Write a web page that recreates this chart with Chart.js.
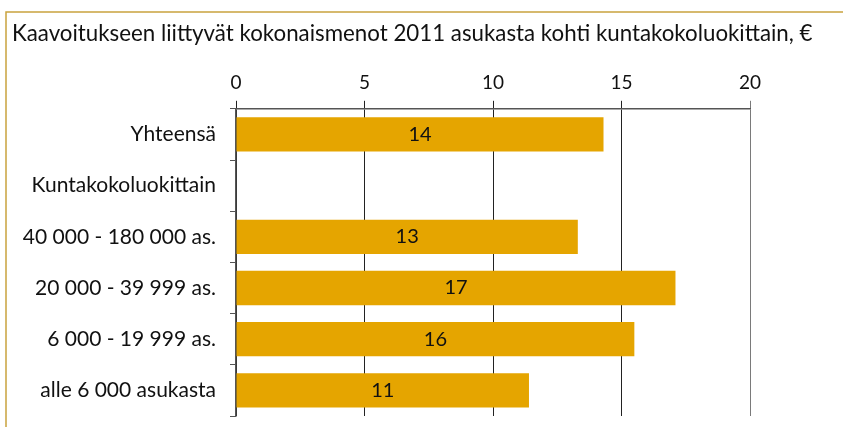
<!DOCTYPE html>
<html>
<head>
<meta charset="utf-8">
<script src="https://cdn.jsdelivr.net/npm/chart.js@4/dist/chart.umd.min.js"></script>
<style>
  html, body { margin: 0; padding: 0; background: #fff; }
  #wrap { width: 843px; height: 427px; position: relative; }
</style>
</head>
<body>
<div id="wrap"><canvas id="chart" width="843" height="427"></canvas></div>
<script>
// data
const titleText = "Kaavoitukseen liittyvät kokonaismenot 2011 asukasta kohti kuntakokoluokittain, €";
const categories = [
  "Yhteensä",
  "Kuntakokoluokittain",
  "40 000 - 180 000 as.",
  "20 000 - 39 999 as.",
  "6 000 - 19 999 as.",
  "alle 6 000 asukasta",
];
const values = [14.3, null, 13.3, 17.1, 15.5, 11.4];
const xTicks = [0, 5, 10, 15, 20];

const FONT = "Lato, 'Open Sans', sans-serif";
const GOLD = "#E5A500";

// golden frame line on top and left, plus the title (wider than the plot area)
const framePlugin = {
  id: "frame",
  beforeDraw(chart) {
    const ctx = chart.ctx;
    ctx.save();
    ctx.strokeStyle = "#C9A33E";
    ctx.lineWidth = 1.5;
    ctx.beginPath();
    ctx.moveTo(6, 427);
    ctx.lineTo(6, 12);
    ctx.lineTo(843, 12);
    ctx.stroke();
    ctx.font = "22.3px " + FONT;
    ctx.fillStyle = "#111";
    ctx.textAlign = "left";
    ctx.textBaseline = "middle";
    ctx.fillText(titleText, 12, 34);
    ctx.restore();
  },
};

// value labels centred in bars
const barLabels = {
  id: "barLabels",
  afterDatasetsDraw(chart) {
    const ctx = chart.ctx;
    const meta = chart.getDatasetMeta(0);
    ctx.save();
    ctx.font = "20px " + FONT;
    ctx.fillStyle = "#111";
    ctx.textAlign = "center";
    ctx.textBaseline = "middle";
    meta.data.forEach((bar, i) => {
      const v = values[i];
      if (v == null) return;
      ctx.fillText(String(Math.round(v)), (bar.x + bar.base) / 2, bar.y);
    });
    ctx.restore();
  },
};

new Chart(document.getElementById("chart"), {
  type: "bar",
  data: {
    labels: categories,
    datasets: [
      {
        data: values,
        backgroundColor: GOLD,
        borderWidth: 0,
        categoryPercentage: 1,
        barPercentage: 0.67,
      },
    ],
  },
  options: {
    indexAxis: "y",
    responsive: false,
    animation: false,
    layout: { padding: { top: 64, left: 12, right: 93, bottom: 11 } },
    plugins: {
      legend: { display: false },
      tooltip: { enabled: false },
      title: { display: false },
    },
    scales: {
      x: {
        position: "top",
        min: 0,
        max: 20,
        afterBuildTicks(scale) {
          scale.ticks = xTicks.map((v) => ({ value: v }));
        },
        ticks: {
          color: "#111",
          font: { family: FONT, size: 19 },
          padding: 7,
        },
        grid: {
          color: (c) => (c.tick && c.tick.value === 20 ? "#7a7a7a" : "#222"),
          tickLength: 8,
          lineWidth: 1,
        },
        border: { color: "#555", width: 1.5 },
      },
      y: {
        afterFit(scale) {
          scale.width = 224;
          scale.paddingTop = 0;
          scale.paddingBottom = 0;
        },
        ticks: {
          color: "#111",
          font: { family: FONT, size: 21 },
          padding: 14,
        },
        grid: {
          drawOnChartArea: false,
          offset: true,
          tickLength: 6,
          color: "#555",
        },
        border: { color: "#555", width: 1.5 },
      },
    },
  },
  plugins: [framePlugin, barLabels],
});
</script>
</body>
</html>
